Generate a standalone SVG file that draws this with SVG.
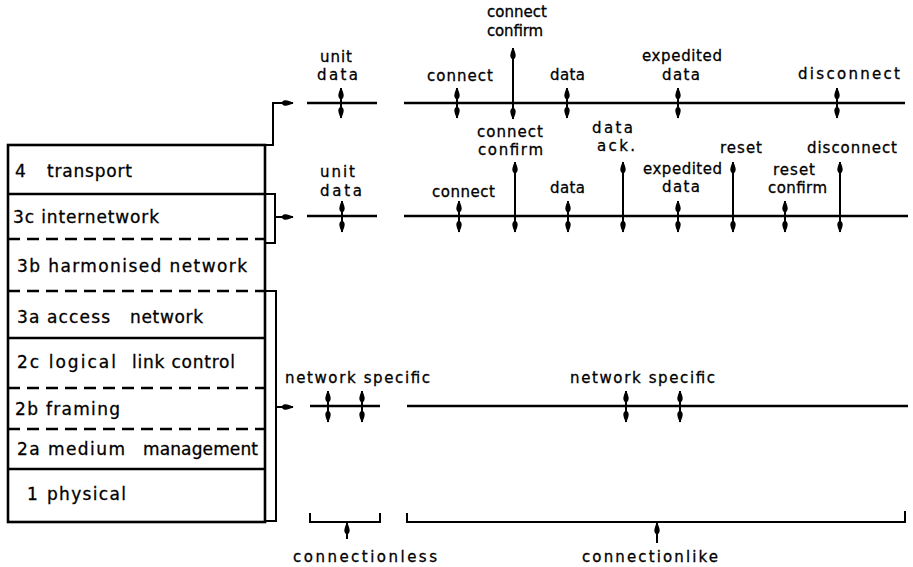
<svg xmlns="http://www.w3.org/2000/svg" width="913" height="567" viewBox="0 0 913 567">
<style>
.t{font-family:"DejaVu Sans","Liberation Sans",sans-serif;font-size:15px;fill:#000;stroke:#000;stroke-width:0.3}
.s{font-family:"DejaVu Sans","Liberation Sans",sans-serif;font-size:17px;fill:#000;stroke:#000;stroke-width:0.3}
.box{fill:#fff;stroke:#000;stroke-width:2.6}
.sol{stroke:#000;stroke-width:2.6;fill:none}
.dash{stroke:#000;stroke-width:2.6;stroke-dasharray:12 7;fill:none}
.ln{stroke:#000;stroke-width:2.6;fill:none}
.br{stroke:#000;stroke-width:2;fill:none}
.ar{stroke:#000;stroke-width:2;fill:none;marker-start:url(#h);marker-end:url(#h)}
.ar1{stroke:#000;stroke-width:2;fill:none;marker-end:url(#h)}
</style>
<defs>
<marker id="h" viewBox="0 0 12 8" refX="11.5" refY="4" markerWidth="12" markerHeight="8" markerUnits="userSpaceOnUse" orient="auto-start-reverse">
<path d="M0,4 C1.5,0.6 5,0.3 12,4 C5,7.7 1.5,7.4 0,4Z" fill="#000"/>
</marker>
</defs>
<rect width="913" height="567" fill="#fff"/>

<g id="stack">
<rect class="box" x="8" y="145" width="257" height="377"/>
<g id="layer-4"><text class="s" x="15" y="177">4</text><text class="s" x="47" y="177" textLength="85" lengthAdjust="spacing">transport</text></g>
<line class="sol" x1="8" y1="194" x2="265" y2="194"/>
<g id="layer-3c"><text class="s" x="13" y="223" textLength="146" lengthAdjust="spacing">3c internetwork</text></g>
<line class="dash" x1="8" y1="239" x2="265" y2="239"/>
<g id="layer-3b"><text class="s" x="17" y="272" textLength="230" lengthAdjust="spacing">3b harmonised network</text></g>
<line class="dash" x1="8" y1="291" x2="265" y2="291"/>
<g id="layer-3a"><text class="s" x="17" y="323" textLength="93" lengthAdjust="spacing">3a access</text><text class="s" x="130" y="323" textLength="73" lengthAdjust="spacing">network</text></g>
<line class="sol" x1="8" y1="338" x2="265" y2="338"/>
<g id="layer-2c"><text class="s" x="17" y="368" textLength="99" lengthAdjust="spacing">2c logical</text><text class="s" x="132" y="368" textLength="103" lengthAdjust="spacing">link control</text></g>
<line class="dash" x1="8" y1="388" x2="265" y2="388"/>
<g id="layer-2b"><text class="s" x="15" y="415" textLength="105" lengthAdjust="spacing">2b framing</text></g>
<line class="dash" x1="8" y1="429" x2="265" y2="429"/>
<g id="layer-2a"><text class="s" x="17" y="455" textLength="108" lengthAdjust="spacing">2a medium</text><text class="s" x="143" y="455" textLength="115" lengthAdjust="spacing">management</text></g>
<line class="sol" x1="8" y1="469" x2="265" y2="469"/>
<g id="layer-1"><text class="s" x="27" y="500">1</text><text class="s" x="47" y="500" textLength="79" lengthAdjust="spacing">physical</text></g>
</g>

<g id="transport-service">
<line class="ln" x1="307" y1="103" x2="377" y2="103"/>
<line class="ln" x1="404" y1="103" x2="905" y2="103"/>
<text class="t" x="320" y="62" textLength="32" lengthAdjust="spacing">unit</text>
<text class="t" x="317" y="80" textLength="41" lengthAdjust="spacing">data</text>
<text class="t" x="487" y="17" textLength="60" lengthAdjust="spacing">connect</text>
<text class="t" x="487" y="36" textLength="56" lengthAdjust="spacing">confirm</text>
<text class="t" x="427" y="81" textLength="66" lengthAdjust="spacing">connect</text>
<text class="t" x="550" y="80" textLength="35" lengthAdjust="spacing">data</text>
<text class="t" x="642" y="61" textLength="80" lengthAdjust="spacing">expedited</text>
<text class="t" x="662" y="80" textLength="38" lengthAdjust="spacing">data</text>
<text class="t" x="798" y="79" textLength="102" lengthAdjust="spacing">disconnect</text>
</g>

<g id="internetwork-service">
<line class="ln" x1="307" y1="216" x2="377" y2="216"/>
<line class="ln" x1="404" y1="216" x2="908" y2="216"/>
<text class="t" x="320" y="177" textLength="35" lengthAdjust="spacing">unit</text>
<text class="t" x="320" y="196" textLength="42" lengthAdjust="spacing">data</text>
<text class="t" x="432" y="197" textLength="63" lengthAdjust="spacing">connect</text>
<text class="t" x="477" y="137" textLength="66" lengthAdjust="spacing">connect</text>
<text class="t" x="478" y="155" textLength="65" lengthAdjust="spacing">confirm</text>
<text class="t" x="550" y="193" textLength="35" lengthAdjust="spacing">data</text>
<text class="t" x="592" y="133" textLength="41" lengthAdjust="spacing">data</text>
<text class="t" x="597" y="151" textLength="38" lengthAdjust="spacing">ack.</text>
<text class="t" x="643" y="174" textLength="79" lengthAdjust="spacing">expedited</text>
<text class="t" x="662" y="192" textLength="38" lengthAdjust="spacing">data</text>
<text class="t" x="720" y="153" textLength="42" lengthAdjust="spacing">reset</text>
<text class="t" x="773" y="175" textLength="42" lengthAdjust="spacing">reset</text>
<text class="t" x="768" y="193" textLength="59" lengthAdjust="spacing">confirm</text>
<text class="t" x="807" y="153" textLength="90" lengthAdjust="spacing">disconnect</text>
</g>

<g id="network-service">
<line class="ln" x1="310" y1="406" x2="380" y2="406"/>
<line class="ln" x1="407" y1="406" x2="908" y2="406"/>
<text class="t" x="285" y="383" textLength="145" lengthAdjust="spacing">network specific</text>
<text class="t" x="570" y="383" textLength="145" lengthAdjust="spacing">network specific</text>
</g>

<g id="connectionless">
<path class="br" d="M310,513 V522 H380 V513"/>
<text class="t" x="293" y="562" textLength="144" lengthAdjust="spacing">connectionless</text>
</g>
<g id="connectionlike">
<path class="br" d="M407,513 V522 H905 V511"/>
<text class="t" x="582" y="562" textLength="136" lengthAdjust="spacing">connectionlike</text>
</g>

<g id="connectors">
<path class="br" d="M265,145 H273 V103 H292"/>
<line class="ar1" x1="284" y1="103" x2="293" y2="103"/>
<path class="br" d="M265,194 H275 V243 H265"/>
<line class="ar1" x1="275" y1="217" x2="293" y2="217"/>
<path class="br" d="M265,291 H276 V521 H265"/>
<line class="ar1" x1="276" y1="407" x2="293" y2="407"/>

<line class="ar" x1="341" y1="88" x2="341" y2="118"/>
<line class="ar" x1="457" y1="88" x2="457" y2="118"/>
<line class="ar" x1="513" y1="48" x2="513" y2="119"/>
<line class="ar" x1="567" y1="88" x2="567" y2="118"/>
<line class="ar" x1="678" y1="88" x2="678" y2="118"/>
<line class="ar" x1="837" y1="88" x2="837" y2="118"/>

<line class="ar" x1="342" y1="201" x2="342" y2="232"/>
<line class="ar" x1="459" y1="201" x2="459" y2="232"/>
<line class="ar" x1="515" y1="162" x2="515" y2="232"/>
<line class="ar" x1="568" y1="201" x2="568" y2="232"/>
<line class="ar" x1="623" y1="162" x2="623" y2="232"/>
<line class="ar" x1="678" y1="201" x2="678" y2="232"/>
<line class="ar" x1="733" y1="162" x2="733" y2="232"/>
<line class="ar" x1="785" y1="201" x2="785" y2="232"/>
<line class="ar" x1="840" y1="162" x2="840" y2="232"/>

<line class="ar" x1="328" y1="391" x2="328" y2="422"/>
<line class="ar" x1="362" y1="391" x2="362" y2="422"/>
<line class="ar" x1="626" y1="391" x2="626" y2="422"/>
<line class="ar" x1="680" y1="391" x2="680" y2="422"/>

<line class="ar1" x1="347" y1="539" x2="347" y2="523"/>
<line class="ar1" x1="657" y1="543" x2="657" y2="523"/>
</g>
</svg>
